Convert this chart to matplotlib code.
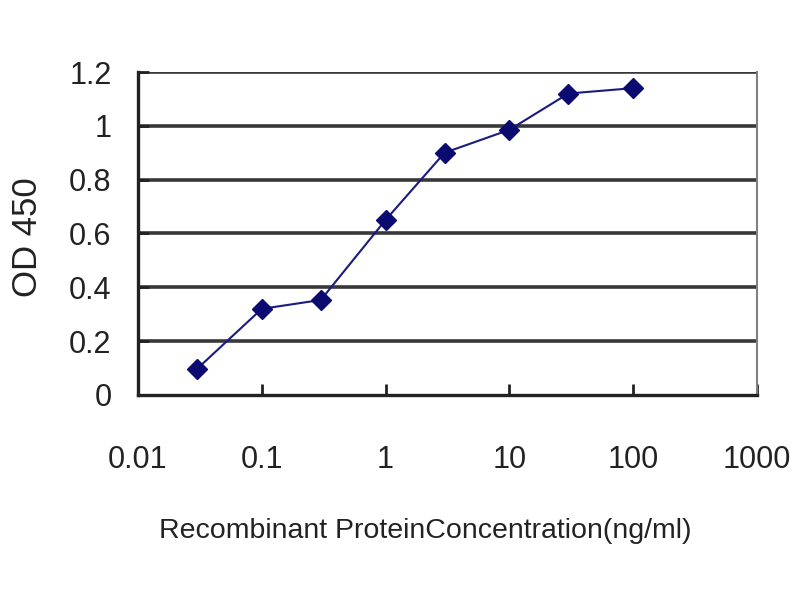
import matplotlib
matplotlib.use("Agg")
import matplotlib.pyplot as plt

conc = [0.03, 0.1, 0.3, 1, 3, 10, 30, 100]
od = [0.097, 0.32, 0.353, 0.65, 0.90, 0.985, 1.12, 1.14]
xticks = [0.01, 0.1, 1, 10, 100, 1000]
xticklabels = ["0.01", "0.1", "1", "10", "100", "1000"]
yticks = [0, 0.2, 0.4, 0.6, 0.8, 1, 1.2]
yticklabels = ["0", "0.2", "0.4", "0.6", "0.8", "1", "1.2"]

plt.rcParams['font.family'] = ['Liberation Sans', 'DejaVu Sans']
fig = plt.figure(figsize=(8, 6), dpi=100)
ax = fig.add_axes([0.1725, 0.3417, 0.946 - 0.1725, 0.88 - 0.3417])
ax.set_xscale('log')
ax.set_xlim(0.01, 1000)
ax.set_ylim(0, 1.2)
for y in yticks[1:]:
    ax.axhline(y, color='#383838', lw=2.6, zorder=1)
ax.plot(conc, od, color='#1a1a80', lw=1.5, marker='D', ms=10,
        markerfacecolor='#0a0a70', markeredgecolor='#0a0a70', zorder=3)
ax.set_xticks(xticks)
ax.set_xticklabels(xticklabels)
ax.minorticks_off()
ax.set_yticks(yticks)
ax.set_yticklabels(yticklabels)
ax.tick_params(axis='both', direction='in', length=8, width=2, labelsize=22, colors='#222222')
ax.tick_params(axis='x', pad=36)
ax.tick_params(axis='y', pad=19)
for s in ['left', 'bottom']:
    ax.spines[s].set_linewidth(2.4)
    ax.spines[s].set_color('#222222')
ax.spines['right'].set_color('#808080')
ax.spines['right'].set_linewidth(1.5)
ax.spines['top'].set_visible(False)
ax.set_ylabel('OD 450', fontsize=25, color='#222222', labelpad=18, y=0.49)
ax.set_xlabel('Recombinant ProteinConcentration(ng/ml)', fontsize=20.5, color='#222222',
              labelpad=31, x=0.465)
fig.savefig('out.png', dpi=100)
